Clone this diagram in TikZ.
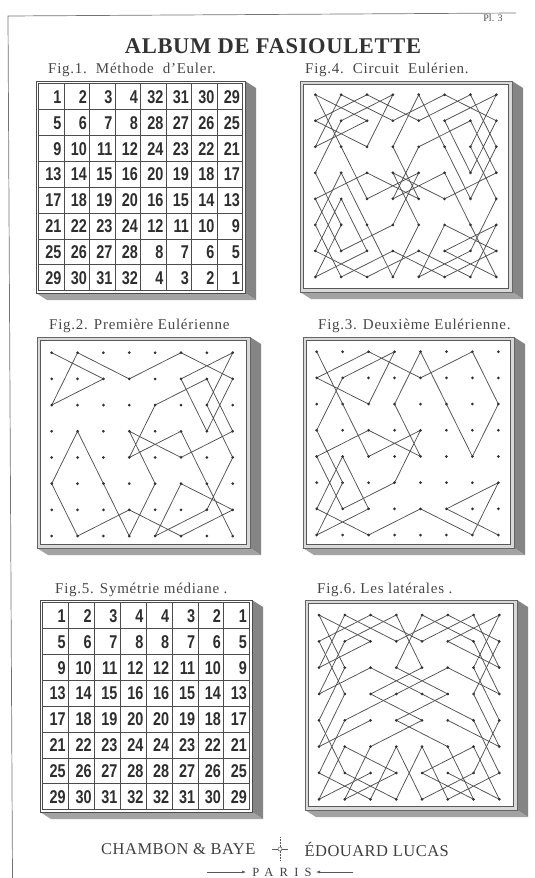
\documentclass[tikz,border=0pt]{standalone}
\usepackage{fontspec}
\setmainfont{Liberation Serif}
\newfontfamily\numfont[FakeStretch=0.78]{Liberation Sans}
\usetikzlibrary{calc,arrows.meta}
\newcommand\mkboard[5]{%
  \coordinate (#1-nw) at (#2,#3);
  \coordinate (#1-se) at (#4,#5);
  \coordinate (#1-ne) at (#4,#3);
  \coordinate (#1-sw) at (#2,#5);
  \fill[sideR] (#1-ne) -- ($(#1-ne)+(11,7)$) -- ($(#1-se)+(11,7)$) -- (#1-se) -- cycle;
  \fill[sideB] (#1-sw) -- (#1-se) -- ($(#1-se)+(11,7)$) -- ($(#1-sw)+(11,7)$) -- cycle;
}
\newcommand\lineframe[1]{%
  \draw[frameout] (#1-nw) rectangle (#1-se);
  \draw[framein] ($(#1-nw)+(3.5,3.5)$) rectangle ($(#1-se)+(-3.5,-3.5)$);
}
\newcommand\dotcoords[5]{%
  \foreach \c in {1,...,8}{\foreach \r in {1,...,8}{%
    \coordinate (#1-\c-\r) at ({#2+(\c-1)*#4},{#3+(\r-1)*#5});}}
}
\newcommand\dotsdraw[1]{%
  \foreach \c in {1,...,8}{\foreach \r in {1,...,8}{%
    \node[pdot] (#1-\c-\r-d) at (#1-\c-\r) {};}}
}
\begin{document}
\begin{tikzpicture}[x=1pt,y=-1pt,
  pdot/.style={circle,fill=black!80,inner sep=0pt,minimum size=3pt},
  tour/.style={draw=black!68,line width=0.75pt,line join=round,line cap=round},
  gridl/.style={draw=black!70,line width=0.5pt},
  num/.style={anchor=east,inner sep=0pt,text=black!82,font=\numfont\bfseries\fontsize{18.5}{18.5}\selectfont},
  figcap/.style={anchor=west,inner sep=0pt,text=black!72,font=\fontsize{15}{16}\selectfont\addfontfeature{LetterSpace=5}},
  sideR/.style={fill=black!48},
  sideB/.style={fill=black!36},
  frameout/.style={draw=black!60,fill=black!15,line width=0.6pt},
  framein/.style={draw=black!65,fill=white,line width=0.5pt},
  numframe/.style={draw=black!70,fill=white,line width=0.9pt}]
\useasboundingbox (0,0) rectangle (535,878);
\fill[white] (0,0) rectangle (535,878);
% page border
\coordinate (pg1) at (12.5,878);
\coordinate (pg2) at (8,16);
\coordinate (pg3) at (516,13);
\draw[black!55,line width=0.7pt] (pg1) -- (pg2) -- (pg3);
\node[font=\fontsize{10}{10}\selectfont,text=black!70] (plate) at (493,18) {Pl. 3};
% title
\node[font=\bfseries\fontsize{22.5}{24}\selectfont\addfontfeature{LetterSpace=3},text=black!80] (title) at (273,46) {ALBUM DE FASIOULETTE};
% captions
\node[figcap] (cap1) at (48,70) {Fig.1.\ \ Méthode\ \ d'Euler.};
\node[figcap] (cap4) at (305,70) {Fig.4.\ \ Circuit\ \ Eulérien.};
\node[figcap] (cap2) at (49,326) {Fig.2. Première Eulérienne};
\node[figcap] (cap3) at (318,326) {Fig.3. Deuxième Eulérienne.};
\node[figcap] (cap5) at (55,590) {Fig.5. Symétrie médiane .};
\node[figcap] (cap6) at (317,590) {Fig.6.\ Les\ latérales .};

% ---------- Fig 1 ----------
\mkboard{F1}{36}{81}{245}{293}
\draw[numframe] (F1-nw) rectangle (F1-se);
\draw[gridl] (38.5,83.5) rectangle (242.5,290.5);
\foreach \k in {1,...,7}{
  \draw[gridl] ({38.5+\k*25.5},83.5) -- ({38.5+\k*25.5},290.5);
  \draw[gridl] (38.5,{83.5+\k*25.875}) -- (242.5,{83.5+\k*25.875});}
\foreach \r in {1,...,8}{\foreach \c in {1,...,8}{
  \pgfmathtruncatemacro\v{\c<5 ? 4*(\r-1)+\c : 4*(8-\r)+9-\c}
  \node[num] (e-\c-\r) at ({38.5+\c*25.5-2.5},{83.5+(\r-0.5)*25.875+0.5}) {\v};}}

% ---------- Fig 5 ----------
\mkboard{F5}{40}{600}{252}{812}
\draw[numframe] (F5-nw) rectangle (F5-se);
\draw[gridl] (42.5,602.5) rectangle (249.5,809.5);
\foreach \k in {1,...,7}{
  \draw[gridl] ({42.5+\k*25.875},602.5) -- ({42.5+\k*25.875},809.5);
  \draw[gridl] (42.5,{602.5+\k*25.875}) -- (249.5,{602.5+\k*25.875});}
\foreach \r in {1,...,8}{\foreach \c in {1,...,8}{
  \pgfmathtruncatemacro\v{\c<5 ? 4*(\r-1)+\c : 4*(\r-1)+9-\c}
  \node[num] (s-\c-\r) at ({42.5+\c*25.875-2.5},{602.5+(\r-0.5)*25.875+0.5}) {\v};}}

% ---------- Fig 4 ----------
\mkboard{A}{300}{81}{512}{292}
\lineframe{A}
\dotcoords{A}{315.3}{94.7}{25.86}{26.04}
% ---------- Fig 2 ----------
\mkboard{B}{37}{337}{250}{548}
\lineframe{B}
\dotcoords{B}{51.7}{352.7}{25.86}{26.19}
% ---------- Fig 3 ----------
\mkboard{C}{303}{337}{514}{548}
\lineframe{C}
\dotcoords{C}{316.7}{351.7}{25.95}{26.19}
% ---------- Fig 6 ----------
\mkboard{D}{305}{600}{517}{810}
\lineframe{D}
\dotcoords{D}{319}{615}{25.76}{26.33}

% first Eulerian (fig 2) and in fig 4
\foreach \P in {B,A}{
\draw[tour] (\P-1-1) \foreach \c/\r in {3/2,1/3,2/1,4/2,6/1,8/2,7/4,6/2,8/1,7/3,8/5,7/7,5/8,6/6,8/7,6/8,4/7,2/8,1/6,2/4,3/6,4/8,5/6,4/4,6/5,8/4,7/2,5/3,4/5,6/4,7/6,8/8}{ -- (\P-\c-\r)};
}
% second Eulerian (fig 3) and in fig 4
\foreach \P in {C,A}{
\draw[tour] (\P-8-8) \foreach \c/\r in {6/7,8/6,7/8,5/7,3/8,1/7,2/5,3/7,1/8,2/6,1/4,2/2,4/1,3/3,1/2,3/1,5/2,7/1,8/3,7/5,6/3,5/1,4/3,5/5,3/4,1/5,2/7,4/6,5/4,3/5,2/3,1/1}{ -- (\P-\c-\r)};
}
% fig 6: a path and its mirror image
\foreach \a/\b/\c/\d in {3/7/1/8, 1/8/2/6, 2/6/4/7, 4/7/2/8, 2/8/3/6, 3/6/5/5, 5/5/3/4, 3/4/5/3, 5/3/4/1, 4/1/2/2, 2/2/1/4, 1/4/3/3, 3/3/5/4, 5/4/7/5, 7/5/8/7, 8/7/6/8, 6/8/5/6, 5/6/4/8, 4/8/2/7, 2/7/1/5, 1/5/2/3, 2/3/1/1, 1/1/3/2, 3/2/1/3, 1/3/2/1, 2/1/4/2, 4/2/6/1, 6/1/8/2, 8/2/7/4, 7/4/8/6, 8/6/6/5}{
  \pgfmathtruncatemacro\ma{9-\a}
  \pgfmathtruncatemacro\mc{9-\c}
  \draw[tour] (D-\a-\b) -- (D-\c-\d);
  \draw[tour] (D-\ma-\b) -- (D-\mc-\d);
}

\dotsdraw{A}
\dotsdraw{B}
\dotsdraw{C}
\dotsdraw{D}

% footer
\node[anchor=east,font=\fontsize{16.5}{17}\selectfont\addfontfeature{LetterSpace=3},text=black!75] (chambon) at (259,849) {CHAMBON \& BAYE};
\node[anchor=west,font=\fontsize{16.5}{17}\selectfont\addfontfeature{LetterSpace=3},text=black!75] (lucas) at (301,849) {ÉDOUARD LUCAS};
\coordinate (crt) at (280,837);
\coordinate (crb) at (280,861);
\coordinate (crl) at (272,849);
\coordinate (crr) at (288,849);
\draw[black!65,line width=0.5pt,densely dotted] (crt) -- (crb);
\draw[black!65,line width=0.5pt] (crl) -- (crr);
\node[circle,draw=black!65,line width=0.5pt,inner sep=0pt,minimum size=4pt,fill=white] (crc) at (280,849) {};
\node[font=\fontsize{12.5}{13}\selectfont\addfontfeature{LetterSpace=50},text=black!75] (paris) at (282,872) {PARIS};
\coordinate (pl1) at (207,872);
\coordinate (pl2) at (246,872);
\coordinate (pr1) at (353,872);
\coordinate (pr2) at (316,872);
\draw[black!65,line width=0.5pt,-{Latex[length=4pt,width=3pt]}] (pl1) -- (pl2);
\draw[black!65,line width=0.5pt,-{Latex[length=4pt,width=3pt]}] (pr1) -- (pr2);
\end{tikzpicture}
\end{document}
